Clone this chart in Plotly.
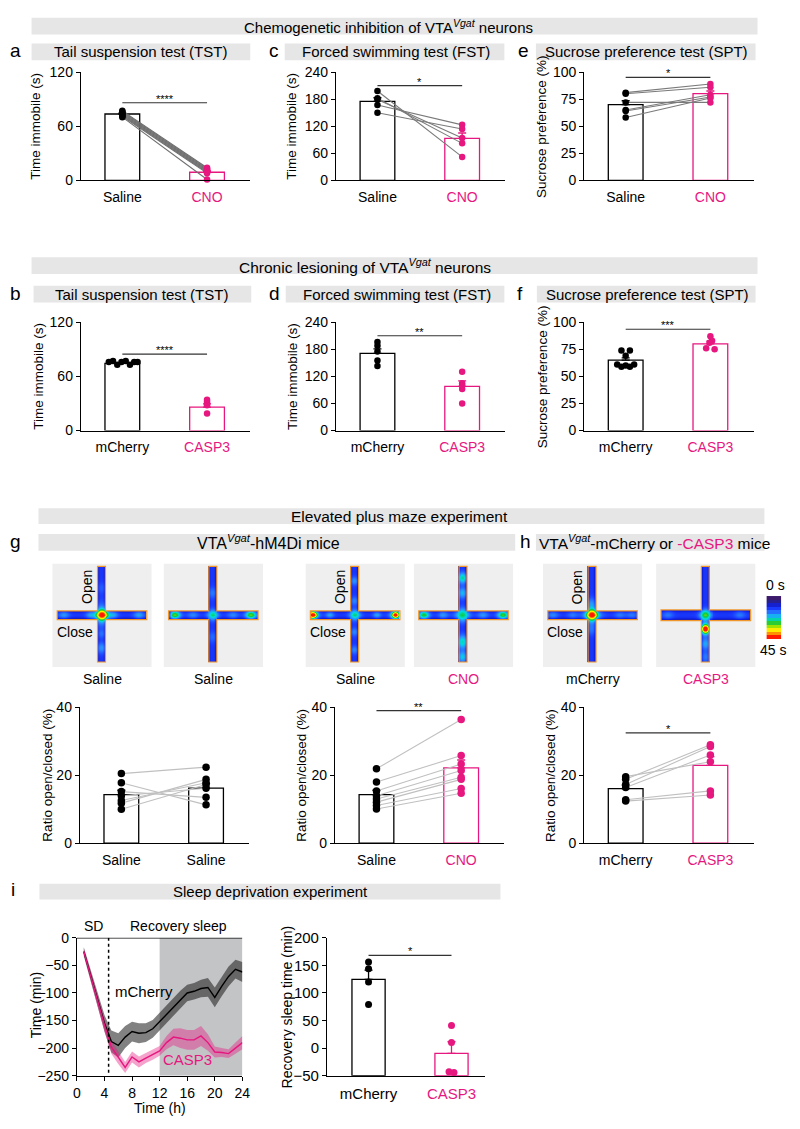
import numpy as np
import plotly.graph_objects as go

W, H = 800, 1129
PINK = '#e6177f'
BAND = '#e6e6e6'
FN = "Liberation Sans Narrow, Arial Narrow, Liberation Sans, Arial, sans-serif"
FR = "Liberation Sans, Arial, sans-serif"

# ------------------------- data -------------------------
# a: Tail suspension test, chemogenetic (paired)
a_cats = ['Saline', 'CNO']
a_mean = [73.5, 9.0]
a_sem = [1.0, 1.6]
a_saline = [77, 76, 75, 74, 73, 72, 71, 70]
a_cno = [14, 13, 12, 11, 10, 9, 8, 1]
# c: Forced swimming test, chemogenetic (paired)
c_cats = ['Saline', 'CNO']
c_mean = [175, 93]
c_sem = [8, 12]
c_saline = [198, 182, 179, 167, 150]
c_cno = [52, 82, 94, 123, 114]
# e: Sucrose preference test, chemogenetic (paired)
e_cats = ['Saline', 'CNO']
e_mean = [70, 80]
e_sem = [3.5, 2.5]
e_saline = [81, 80, 72, 65, 64, 58]
e_cno = [89, 86, 72, 79, 77, 76]
# b: TST lesion
b_cats = ['mCherry', 'CASP3']
b_mean = [74.5, 26]
b_sem = [0.8, 3.5]
b_mcherry = [76, 77, 76, 77, 76, 76, 73, 73]
b_casp3 = [34, 32, 30, 28, 19]
# d: FST lesion
d_cats = ['mCherry', 'CASP3']
d_mean = [171, 98]
d_sem = [10, 12]
d_mcherry = [196, 188, 175, 155, 143]
d_casp3 = [130, 105, 100, 92, 60]
# f: SPT lesion
f_cats = ['mCherry', 'CASP3']
f_mean = [65, 80]
f_sem = [2.0, 2.5]
f_mcherry = [74, 74, 69, 61, 59, 60, 59, 61]
f_casp3 = [87, 83, 81, 76, 75]
# g: EPM hM4Di
g1_cats = ['Saline', 'Saline']
g1_mean = [14.3, 16.2]
g1_sem = [1.3, 1.4]
g1_first = [20.5, 17.8, 15.2, 14.0, 12.6, 11.8, 10.0]
g1_second = [22.4, 11.3, 13.5, 16.2, 17.8, 18.8, 17.3]
g2_cats = ['Saline', 'CNO']
g2_mean = [14.3, 22.2]
g2_sem = [1.3, 2.3]
g2_saline = [21.9, 18.0, 15.4, 14.0, 13.0, 12.1, 11.1, 10.1]
g2_cno = [36.4, 25.8, 23.3, 21.4, 19.4, 18.8, 16.1, 14.7]
# h: EPM lesion
h_cats = ['mCherry', 'CASP3']
h_mean = [16.1, 22.9]
h_sem = [1.0, 2.6]
h_mcherry = [19.6, 18.8, 17.3, 16.4, 12.8, 12.4]
h_casp3 = [24.0, 29.0, 28.5, 26.0, 15.4, 14.2]
# i: sleep deprivation
i_hours = list(range(1, 25))
i_mch = [-25, -68, -112, -155, -188, -195, -180, -170, -173, -172, -165, -152,
         -138, -125, -112, -100, -97, -92, -90, -108, -88, -70, -57, -62]
i_mch_sem = [8, 10, 12, 15, 20, 22, 20, 18, 18, 17, 16, 16,
             16, 16, 16, 15, 15, 16, 17, 18, 18, 18, 17, 18]
i_casp = [-25, -70, -115, -158, -198, -217, -235, -216, -225, -218, -212, -205,
          -190, -180, -182, -185, -185, -178, -190, -207, -208, -210, -200, -190]
i_casp_sem = [6, 8, 10, 12, 12, 12, 10, 10, 10, 9, 9, 9,
              12, 15, 18, 18, 18, 18, 15, 10, 8, 8, 10, 12]
i_cats = ['mCherry', 'CASP3']
i_bar_mean = [124.5, -9.5]
i_bar_sem = [17, 21]
i_bar_mch = [156, 144, 120, 79]
i_bar_casp = [41, 10, -43, -44]

# EPM heat-map hot spots: (x, y, amplitude in s, spread) in maze-local units
maze_labels = ['Saline', 'Saline', 'Saline', 'CNO', 'mCherry', 'CASP3']
maze_label_colors = ['black', 'black', 'black', PINK, 'black', PINK]
maze_spots = [
    [(50, 52.5, 30, 3.5), (50, 52.5, 10, 8), (38, 52.5, 5, 3), (62, 52.5, 5, 3), (12, 52.5, 7, 4),
     (88, 52.5, 8, 4), (49.5, 86, 7, 4), (49.5, 72, 4, 3), (49.5, 25, 3, 4)],
    [(12, 52.5, 18, 4), (50, 52.5, 14, 4), (88, 52.5, 18, 4), (30, 52.5, 6, 4), (70, 52.5, 6, 4),
     (49.5, 30, 5, 4), (49.5, 75, 4, 4)],
    [(8, 52.5, 32, 2.8), (8, 52.5, 8, 5), (91, 52.5, 32, 2.8), (91, 52.5, 8, 5), (50, 52.5, 14, 4),
     (25, 52.5, 8, 3), (72, 52.5, 8, 3), (49.5, 18, 7, 3), (49.5, 38, 6, 3), (49.5, 70, 6, 3), (49.5, 88, 6, 3)],
    [(10, 52.5, 16, 4), (90, 52.5, 17, 4), (49.5, 52.5, 15, 5), (49.5, 15, 13, 4), (49.5, 30, 9, 4),
     (49.5, 80, 12, 5), (49.5, 95, 10, 4), (30, 52.5, 7, 4), (70, 52.5, 7, 4)],
    [(50, 52.5, 30, 3.5), (50, 52.5, 10, 7), (10, 52.5, 6, 4), (30, 52.5, 5, 4), (78, 52.5, 5, 4),
     (90, 52.5, 5, 4), (49.5, 40, 5, 4), (49.5, 68, 4, 4)],
    [(49.5, 52.5, 18, 4), (49.5, 67, 30, 2.8), (49.5, 67, 10, 5), (49.5, 82, 8, 4), (49.5, 95, 5, 4),
     (12, 52.5, 5, 4), (85, 52.5, 5, 4)],
]
colorbar_levels = [0, 4, 8, 12, 16, 20, 24, 28, 32, 36, 40, 45]

# ------------------------- figure -------------------------
fig = go.Figure()
layout = dict(width=W, height=H, margin=dict(l=0, r=0, t=0, b=0), paper_bgcolor='white',
              plot_bgcolor='rgba(0,0,0,0)', showlegend=False, barmode='overlay')
shapes, annotations = [], []
count = [0]


def new_axes(xd, yd, xkw, ykw):
    count[0] += 1
    n = count[0]
    sfx = '' if n == 1 else str(n)
    layout['xaxis' + sfx] = dict(domain=[xd[0] / W, xd[1] / W], anchor='y' + sfx, **xkw)
    layout['yaxis' + sfx] = dict(domain=[1 - yd[1] / H, 1 - yd[0] / H], anchor='x' + sfx, **ykw)
    return 'x' + sfx, 'y' + sfx


def ptext(x, y, s, size, family=FN, color='black', xanchor='center', angle=0):
    annotations.append(dict(xref='paper', yref='paper', x=x / W, y=1 - y / H, text=s, showarrow=False,
                            xanchor=xanchor, yanchor='middle', textangle=angle,
                            font=dict(family=family, size=size, color=color)))


def band(x0, x1, y0, y1):
    shapes.append(dict(type='rect', xref='paper', yref='paper', x0=x0 / W, x1=x1 / W,
                       y0=1 - y1 / H, y1=1 - y0 / H, fillcolor=BAND, line=dict(width=0), layer='below'))


def axis_style(**kw):
    d = dict(showline=True, linecolor='black', linewidth=1.2, showgrid=False, zeroline=False,
             tickcolor='black', tickwidth=1.2, fixedrange=True)
    d.update(kw)
    return d


def bar_panel(x0, ytop, ybot, yrange, yticks, cats, colors, means, sems, groups, paired=False,
              dxs=None, sig=None, base=None, xw=172, xrange=(-0.49, 1.51), tickfont=None,
              ytickfont=None, dot=6.5, pair_color='#808080', bw=0.41):
    if tickfont is None:
        tickfont = dict(family=FN, size=14, color='black')
    if ytickfont is None:
        ytickfont = dict(family=FN, size=14, color='black')
    ticktext = ["<span style='color:%s'>%s</span>" % (c, t) for t, c in zip(cats, colors)]
    xr, yr = new_axes((x0, x0 + xw), (ytop, ybot),
                      axis_style(range=list(xrange), ticks='outside', ticklen=4,
                                 tickcolor='rgba(0,0,0,0)', tickvals=[0, 1], ticktext=ticktext,
                                 tickfont=tickfont),
                      axis_style(range=list(yrange), ticks='outside', ticklen=4, tickvals=yticks,
                                 tickfont=ytickfont))
    yb = [m - base for m in means] if base is not None else list(means)
    fig.add_trace(go.Bar(x=[0, 1], y=yb, base=base, width=bw, xaxis=xr, yaxis=yr, hoverinfo='skip',
                         marker=dict(color='white', line=dict(color=colors, width=1.3))))
    for i in range(2):
        fig.add_trace(go.Scatter(x=[i], y=[means[i]], mode='markers', xaxis=xr, yaxis=yr, hoverinfo='skip',
                                 marker=dict(size=1, color='rgba(0,0,0,0)'),
                                 error_y=dict(type='data', symmetric=False, array=[sems[i]], arrayminus=[0],
                                              color=colors[i], thickness=1.3, width=4)))
    if paired:
        lx, ly = [], []
        for a, b in zip(groups[0], groups[1]):
            lx += [0, 1, None]
            ly += [a, b, None]
        fig.add_trace(go.Scatter(x=lx, y=ly, mode='lines', xaxis=xr, yaxis=yr, hoverinfo='skip',
                                 line=dict(color=pair_color, width=1.1)))
    for i in range(2):
        d = dxs[i] if dxs else [0] * len(groups[i])
        fig.add_trace(go.Scatter(x=[i + v for v in d], y=groups[i], mode='markers', xaxis=xr, yaxis=yr,
                                 hoverinfo='skip', cliponaxis=False,
                                 marker=dict(size=dot, color=colors[i], line=dict(width=0))))
    if sig:
        yv, txt = sig
        shapes.append(dict(type='line', xref=xr, yref=yr, x0=0, x1=1, y0=yv, y1=yv,
                           line=dict(color='#333333', width=1.2)))
        annotations.append(dict(xref=xr, yref=yr, x=0.5, y=yv, text=txt, showarrow=False, yanchor='bottom',
                                yshift=-4, font=dict(family=FR, size=11, color='black')))
    return xr, yr


# ---------- headers ----------
band(28, 765, 9, 26)
ptext(390, 17.5, "Chemogenetic inhibition of VTA<sup><i>Vgat</i></sup> neurons", 15)
for letter, lx, bx0, bx1, title, tx in [
        ('a', 12, 28, 250, 'Tail suspension test (TST)', 139),
        ('c', 274, 285, 508, 'Forced swimming test (FST)', 398),
        ('e', 527, 540, 763, 'Sucrose preference test (SPT)', 652)]:
    band(bx0, bx1, 35, 52)
    ptext(tx, 43.5, title, 15)
    ptext(lx, 42.5, letter, 19)

band(28, 765, 252, 269)
ptext(366, 260.5, "Chronic lesioning of VTA<sup><i>Vgat</i></sup> neurons", 15.5)
for letter, lx, bx0, bx1, title, tx in [
        ('b', 12, 30, 251, 'Tail suspension test (TST)', 140),
        ('d', 275, 286, 508, 'Forced swimming test (FST)', 399),
        ('f', 524, 541, 763, 'Sucrose preference test (SPT)', 653)]:
    band(bx0, bx1, 281, 298)
    ptext(tx, 289.5, title, 15)
    ptext(lx, 289, letter, 19)

band(35, 772, 507, 523)
ptext(402, 515, "Elevated plus maze experiment", 15.5)
band(35, 519, 533, 550)
ptext(269, 541.5, "VTA<sup><i>Vgat</i></sup>-hM4Di mice", 16)
ptext(12, 541, 'g', 19)
band(540, 772, 533, 550)
ptext(541, 541.5, "VTA<sup><i>Vgat</i></sup>-mCherry or <span style='color:%s'>-CASP3</span> mice" % PINK,
      15.5, xanchor='left')
ptext(529, 541, 'h', 19)

band(36, 504, 888, 904)
ptext(271, 896, "Sleep deprivation experiment", 15)
ptext(9, 894, 'i', 19)

# ---------- row 1 ----------
X0 = [78, 337, 589]
R1 = (64, 174)
R2 = (318, 428)
bar_panel(X0[0], R1[0], R1[1], [0, 120], [0, 60, 120], a_cats, ['black', PINK], a_mean, a_sem,
          [a_saline, a_cno], paired=True, sig=(86, '****'), pair_color='#6e6e6e')
bar_panel(X0[1], R1[0], R1[1], [0, 240], [0, 60, 120, 180, 240], c_cats, ['black', PINK], c_mean, c_sem,
          [c_saline, c_cno], paired=True, sig=(210, '*'), pair_color='#7a7a7a')
bar_panel(X0[2], R1[0], R1[1], [0, 100], [0, 25, 50, 75, 100], e_cats, ['black', PINK], e_mean, e_sem,
          [e_saline, e_cno], paired=True, sig=(95, '*'), pair_color='#7a7a7a')
ym1 = (R1[0] + R1[1]) / 2
ptext(32, ym1, 'Time immobile (s)', 13.5, family=FR, angle=-90)
ptext(292, ym1, 'Time immobile (s)', 13.5, family=FR, angle=-90)
ptext(545, ym1, 'Sucrose preference (%)', 13.5, family=FR, angle=-90)

# ---------- row 2 ----------
bar_panel(X0[0], R2[0], R2[1], [0, 120], [0, 60, 120], b_cats, ['black', PINK], b_mean, b_sem,
          [b_mcherry, b_casp3], dxs=[[-0.16, -0.11, -0.01, 0.04, 0.14, 0.18, -0.06, 0.09], [0] * 5],
          sig=(84.6, '****'))
bar_panel(X0[1], R2[0], R2[1], [0, 240], [0, 60, 120, 180, 240], d_cats, ['black', PINK], d_mean, d_sem,
          [d_mcherry, d_casp3], sig=(210, '**'))
bar_panel(X0[2], R2[0], R2[1], [0, 100], [0, 25, 50, 75, 100], f_cats, ['black', PINK], f_mean, f_sem,
          [f_mcherry, f_casp3], dxs=[[-0.05, 0.05, 0, -0.1, -0.05, 0, 0.05, 0.1], [0, 0.02, -0.01, -0.05, 0.05]],
          sig=(93.5, '***'))
ym2 = (R2[0] + R2[1]) / 2
ptext(35, ym2, 'Time immobile (s)', 13.5, family=FR, angle=-90)
ptext(293, ym2, 'Time immobile (s)', 13.5, family=FR, angle=-90)
ptext(547, ym2, 'Sucrose preference (%)', 13.5, family=FR, angle=-90)

# ---------- EPM heat maps ----------
JET = [[0.0, '#3b1a6b'], [0.1, '#25208f'], [0.2, '#1020e0'], [0.27, '#1a3cff'], [0.4, '#2a8cff'],
       [0.5, '#00dddd'], [0.6, '#10c840'], [0.7, '#90e000'], [0.78, '#ffff00'], [0.88, '#ff9900'],
       [1.0, '#ff1a00']]
boxes_x = [(49, 150), (162, 263), (306, 407), (416, 517), (547, 648), (662, 763)]
box_y = (563, 668)
CX, HW, TOP, BOT, CY, LEFT, RIGHT = 49.5, 4.0, 3.0, 100.0, 52.5, 5.0, 95.0
arm_half = [4.5, 4.5, 4.5, 4.5, 4.5, 5.5]


def maze_grid(spots, hh):
    xs = np.arange(0.5, 100, 1.0)
    ys = np.arange(0.5, 105, 1.0)
    X, Y = np.meshgrid(xs, ys)
    vert = (np.abs(X - CX) <= HW) & (Y >= TOP) & (Y <= BOT)
    horz = (np.abs(Y - CY) <= hh) & (X >= LEFT) & (X <= RIGHT)
    edge = np.where(vert & horz, 0.0, np.where(vert, np.abs(X - CX) / HW, np.abs(Y - CY) / hh))
    Z = 11.5 - 6 * np.clip(edge, 0, 1) ** 3
    for (sx, sy, amp, sg) in spots:
        Z = Z + amp * np.exp(-((X - sx) ** 2 + (Y - sy) ** 2) / (2 * sg * sg))
    Z = np.where(vert | horz, Z, np.nan)
    return xs, ys, Z


for k, (bx0, bx1) in enumerate(boxes_x):
    hh = arm_half[k]
    xr, yr = new_axes((bx0, bx1), box_y, dict(visible=False, range=[0, 100], fixedrange=True),
                      dict(visible=False, range=[105, 0], fixedrange=True))
    shapes.append(dict(type='rect', xref=xr, yref=yr, x0=0, x1=100, y0=0, y1=105, fillcolor='#efefef',
                       line=dict(width=0), layer='below'))
    xs, ys, Z = maze_grid(maze_spots[k], hh)
    fig.add_trace(go.Heatmap(x=xs, y=ys, z=Z, colorscale=JET, zmin=0, zmax=45, showscale=False,
                             xaxis=xr, yaxis=yr, hoverinfo='skip'))
    path = ('M %f,%f L %f,%f L %f,%f L %f,%f L %f,%f L %f,%f L %f,%f L %f,%f L %f,%f L %f,%f L %f,%f L %f,%f Z'
            % (LEFT, CY - hh, CX - HW, CY - hh, CX - HW, TOP, CX + HW, TOP, CX + HW, CY - hh, RIGHT, CY - hh,
               RIGHT, CY + hh, CX + HW, CY + hh, CX + HW, BOT, CX - HW, BOT, CX - HW, CY + hh, LEFT, CY + hh))
    shapes.append(dict(type='path', xref=xr, yref=yr, path=path, line=dict(color='#f0962a', width=1.2)))
    ptext((bx0 + bx1) / 2, 680, maze_labels[k], 14, color=maze_label_colors[k])
    if k in (0, 2, 4):
        ptext(bx0 + 35, 587, 'Open', 14, family=FR, angle=-90)
        ptext(bx0 + 23, 633, 'Close', 14, family=FR)

# colour bar
xr, yr = new_axes((774, 789), (596, 640), dict(visible=False, range=[-0.5, 0.5], fixedrange=True),
                  dict(visible=False, range=[len(colorbar_levels) - 0.5, -0.5], fixedrange=True))
fig.add_trace(go.Heatmap(z=[[v] for v in colorbar_levels], colorscale=JET, zmin=0, zmax=45, showscale=False,
                         xaxis=xr, yaxis=yr, hoverinfo='skip'))
ptext(783, 585, '0 s', 14, family=FR)
ptext(781, 651, '45 s', 14, family=FR)

# ---------- EPM bars ----------
XE = [77, 336, 589]
RE = (709, 847)
bar_panel(XE[0], RE[0], RE[1], [0, 40], [0, 20, 40], g1_cats, ['black', 'black'], g1_mean, g1_sem,
          [g1_first, g1_second], paired=True, dot=7.5, pair_color='#c0c0c0')
bar_panel(XE[1], RE[0], RE[1], [0, 40], [0, 20, 40], g2_cats, ['black', PINK], g2_mean, g2_sem,
          [g2_saline, g2_cno], paired=True, dot=7.5, pair_color='#c0c0c0', sig=(39, '**'))
bar_panel(XE[2], RE[0], RE[1], [0, 40], [0, 20, 40], h_cats, ['black', PINK], h_mean, h_sem,
          [h_mcherry, h_casp3], paired=True, dot=7.5, pair_color='#c0c0c0', sig=(32.5, '*'))
ptext(44, 778, 'Ratio open/closed (%)', 13.5, family=FR, angle=-90)
ptext(302, 778, 'Ratio open/closed (%)', 13.5, family=FR, angle=-90)
ptext(555, 778, 'Ratio open/closed (%)', 13.5, family=FR, angle=-90)

# ---------- i: time course ----------
ft = dict(family=FR, size=14, color='black')
xr, yr = new_axes((74, 242), (943, 1083),
                  axis_style(range=[0, 24], tickvals=[0, 4, 8, 12, 16, 20, 24], ticks='outside', ticklen=4,
                             tickfont=ft),
                  axis_style(range=[-250, 0], tickvals=[0, -50, -100, -150, -200, -250], ticks='outside',
                             ticklen=4, tickfont=ft))
shapes.append(dict(type='rect', xref=xr, yref=yr, x0=12, x1=24, y0=-250, y1=0, fillcolor='#c3c4c6',
                   line=dict(width=0), layer='below'))
for mean, sem, fc in [(i_mch, i_mch_sem, 'rgba(25,25,25,0.55)'),
                      (i_casp, i_casp_sem, 'rgba(230,23,127,0.40)')]:
    up = [m + s for m, s in zip(mean, sem)]
    lo = [m - s for m, s in zip(mean, sem)]
    fig.add_trace(go.Scatter(x=i_hours, y=up, mode='lines', line=dict(width=0), xaxis=xr, yaxis=yr,
                             hoverinfo='skip'))
    fig.add_trace(go.Scatter(x=i_hours, y=lo, mode='lines', line=dict(width=0), fill='tonexty', fillcolor=fc,
                             xaxis=xr, yaxis=yr, hoverinfo='skip'))
for mean, lc in [(i_mch, 'black'), (i_casp, PINK)]:
    fig.add_trace(go.Scatter(x=i_hours, y=mean, mode='lines', line=dict(color=lc, width=1.4), xaxis=xr,
                             yaxis=yr, hoverinfo='skip'))
shapes.append(dict(type='line', xref=xr, yref=yr, x0=4.6, x1=4.6, y0=0, y1=-250,
                   line=dict(color='black', width=1.5, dash='dot')))
shapes.append(dict(type='line', xref=xr, yref=yr, x0=0, x1=24, y0=0, y1=0, line=dict(color='black', width=1.2)))
annotations.append(dict(xref=xr, yref=yr, x=9.8, y=-98, text='mCherry', showarrow=False,
                        font=dict(family=FR, size=15, color='black')))
annotations.append(dict(xref=xr, yref=yr, x=16.1, y=-220, text='CASP3', showarrow=False,
                        font=dict(family=FR, size=15, color=PINK)))
ptext(91, 931, 'SD', 14, family=FR)
ptext(177, 931, 'Recovery sleep', 14, family=FR)
ptext(32, 1012, 'Time (min)', 14, family=FR, angle=-90)
ptext(158, 1116, 'Time (h)', 14, family=FR)

# ---------- i: recovery sleep bars ----------
fb = dict(family=FR, size=15, color='black')
bar_panel(328, 943, 1083, [-50, 200], [-50, 0, 50, 100, 150, 200], i_cats, ['black', PINK], i_bar_mean,
          i_bar_sem, [i_bar_mch, i_bar_casp], dxs=[[0, 0, 0, 0], [0, 0, -0.03, 0.03]], sig=(168, '*'),
          base=-50, xw=160, xrange=(-0.5, 1.4), tickfont=fb, ytickfont=fb, dot=7, bw=0.4)
ptext(287, 1013, 'Recovery sleep time (min)', 14, family=FR, angle=-90)

layout['shapes'] = shapes
layout['annotations'] = annotations
fig.update_layout(**layout)
fig.write_html("out.html", config={'displayModeBar': False},
               post_script="document.body.style.margin='0';document.body.style.overflow='hidden';")
